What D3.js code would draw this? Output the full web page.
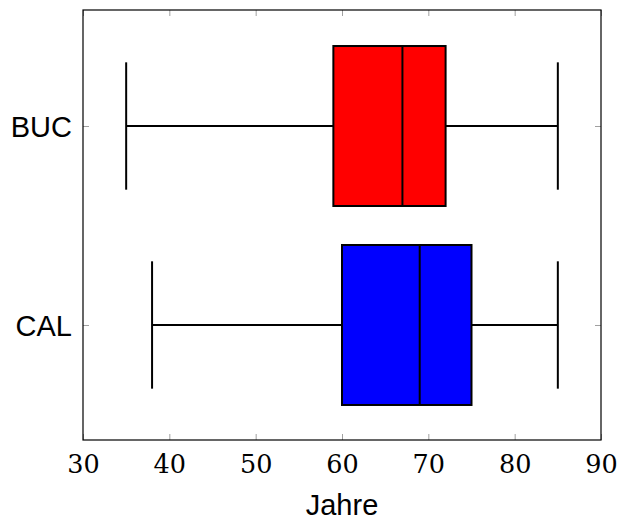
<!DOCTYPE html>
<html>
<head>
<meta charset="utf-8">
<script src="https://cdn.jsdelivr.net/npm/d3@7"></script>
<style>
  body { margin: 0; background: #fff; }
  svg { display: block; }
  .xnum text { font-family: "DejaVu Serif", serif; font-size: 25.5px; }
</style>
</head>
<body>
<script>
// box plot data
var categories = ["BUC", "CAL"];
var positions = [2, 1];
var lowerWhisker = [35, 38];
var lowerQuartile = [59, 60];
var median = [67, 69];
var upperQuartile = [72, 75];
var upperWhisker = [85, 85];
var boxColors = ["#ff0000", "#0000ff"];
var xTicks = [30, 40, 50, 60, 70, 80, 90];
var xLabel = "Jahre";

var width = 617, height = 521;
var margin = { top: 10, right: 16, bottom: 81, left: 83 };
var innerW = width - margin.left - margin.right,
    innerH = height - margin.top - margin.bottom;

var svg = d3.select("body").append("svg")
    .attr("width", width)
    .attr("height", height)
    .append("g")
    .attr("transform", "translate(" + margin.left + "," + margin.top + ")");

var x = d3.scaleLinear().domain([30, 90]).range([0, innerW]);
var y = d3.scaleLinear().domain([0.422, 2.583]).range([innerH, 0]);

var boxHalf = 0.402, capHalf = 0.32;

var rows = categories.map(function(c, i) {
    return {
        name: c, pos: positions[i],
        lw: lowerWhisker[i], lq: lowerQuartile[i], med: median[i],
        uq: upperQuartile[i], uw: upperWhisker[i], color: boxColors[i]
    };
});

// ticks (inside, grey) on all four sides
var tickColor = "#a0a0a0";
var tickLen = 6;

function greyTicks(sel) {
    sel.select(".domain").remove();
    sel.selectAll("line").attr("stroke", tickColor).attr("stroke-width", 1);
}

var axBottom = svg.append("g")
    .attr("class", "xnum")
    .attr("transform", "translate(0," + innerH + ")")
    .call(d3.axisBottom(x).tickValues(xTicks).tickSizeInner(-tickLen).tickSizeOuter(0));
greyTicks(axBottom);
axBottom.attr("font-family", null).attr("font-size", null);
axBottom.selectAll("text")
    .attr("y", 33).attr("dy", 0)
    .attr("fill", "#000");

var axTop = svg.append("g")
    .call(d3.axisTop(x).tickValues(xTicks).tickSizeInner(-tickLen).tickSizeOuter(0).tickFormat(""));
greyTicks(axTop);

var axLeft = svg.append("g")
    .call(d3.axisLeft(y).tickValues(positions).tickSizeInner(-tickLen).tickSizeOuter(0)
        .tickFormat(function(d) { return categories[positions.indexOf(d)]; }));
greyTicks(axLeft);
axLeft.selectAll("text")
    .attr("x", -11).attr("dy", "0.36em")
    .attr("fill", "#000")
    .style("font-family", "'Liberation Sans', Arial, sans-serif")
    .style("font-size", "29px");

var axRight = svg.append("g")
    .attr("transform", "translate(" + innerW + ",0)")
    .call(d3.axisRight(y).tickValues(positions).tickSizeInner(-tickLen).tickSizeOuter(0).tickFormat(""));
greyTicks(axRight);

// boxes
var g = svg.selectAll("g.box")
    .data(rows)
    .enter().append("g")
    .attr("class", "box");

// whisker line
g.append("line")
    .attr("x1", function(d) { return x(d.lw); })
    .attr("x2", function(d) { return x(d.uw); })
    .attr("y1", function(d) { return y(d.pos); })
    .attr("y2", function(d) { return y(d.pos); })
    .attr("stroke", "#000").attr("stroke-width", 2);

// caps
["lw", "uw"].forEach(function(k) {
    g.append("line")
        .attr("x1", function(d) { return x(d[k]); })
        .attr("x2", function(d) { return x(d[k]); })
        .attr("y1", function(d) { return y(d.pos + capHalf); })
        .attr("y2", function(d) { return y(d.pos - capHalf); })
        .attr("stroke", "#000").attr("stroke-width", 2);
});

g.append("rect")
    .attr("x", function(d) { return x(d.lq); })
    .attr("width", function(d) { return x(d.uq) - x(d.lq); })
    .attr("y", function(d) { return y(d.pos + boxHalf); })
    .attr("height", function(d) { return y(d.pos - boxHalf) - y(d.pos + boxHalf); })
    .attr("fill", function(d) { return d.color; })
    .attr("stroke", "#000").attr("stroke-width", 2);

g.append("line")
    .attr("x1", function(d) { return x(d.med); })
    .attr("x2", function(d) { return x(d.med); })
    .attr("y1", function(d) { return y(d.pos + boxHalf); })
    .attr("y2", function(d) { return y(d.pos - boxHalf); })
    .attr("stroke", "#000").attr("stroke-width", 2);

// frame
svg.append("rect")
    .attr("x", 0).attr("y", 0)
    .attr("width", innerW).attr("height", innerH)
    .attr("fill", "none")
    .attr("stroke", "#000").attr("stroke-width", 1.2);

// axis label
svg.append("text")
    .attr("x", innerW / 2)
    .attr("y", innerH + 75)
    .attr("text-anchor", "middle")
    .style("font-family", "'Liberation Sans', Arial, sans-serif")
    .style("font-size", "29px")
    .text(xLabel);
</script>
</body>
</html>
